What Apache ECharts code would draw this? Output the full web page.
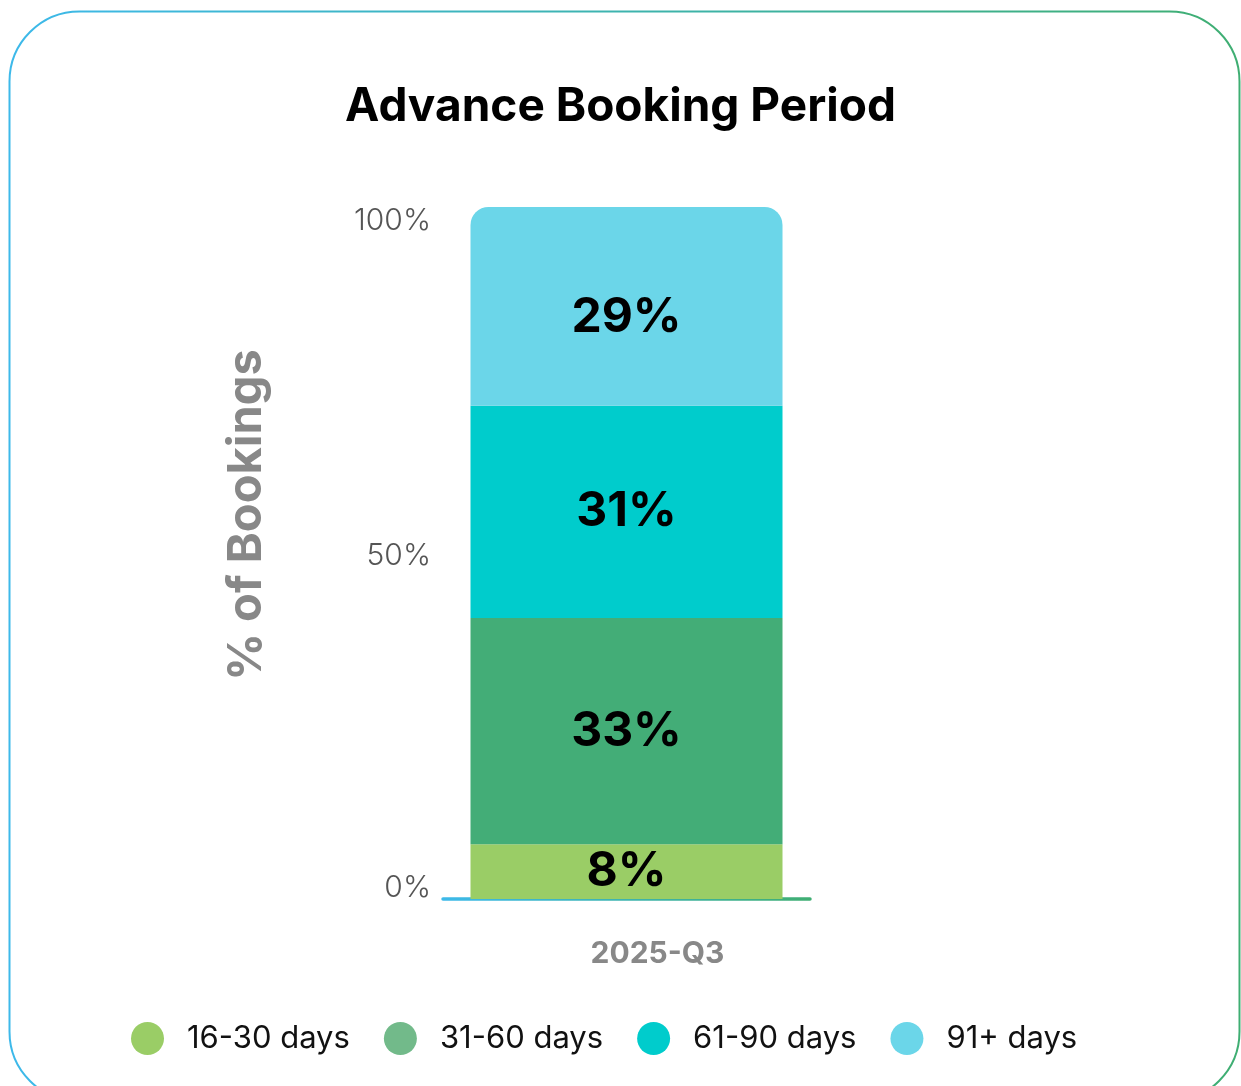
<!DOCTYPE html>
<html>
<head>
<meta charset="utf-8">
<script src="https://cdn.jsdelivr.net/npm/echarts@6/dist/echarts.min.js"></script>
<style>
  html, body { margin: 0; padding: 0; background: #fff; }
  #chart { width: 1241px; height: 1086px; }
</style>
</head>
<body>
<div id="chart"></div>
<script>
/** advance booking period, share of bookings per lead-time bucket */

const categories = ["2025-Q3"];
const seriesNames = ["16-30 days", "31-60 days", "61-90 days", "91+ days"];
const seriesValues = [[8], [33], [31], [29]];
const barColors = ["#9acd66", "#43ad77", "#00cccc", "#6bd6e9"];
const legendColors = ["#9acd66", "#72ba8a", "#00cccc", "#6bd6e9"];
const yTicks = [0, 50, 100];

const font = "Inter, 'Open Sans', sans-serif";
const blue = "#3db9ea";
const green = "#3fae72";

const chart = echarts.init(document.getElementById("chart"), undefined, {
  renderer: "canvas",
});

const hGradient = () =>
  new echarts.graphic.LinearGradient(0, 0, 1, 0, [
    { offset: 0, color: blue },
    { offset: 1, color: green },
  ]);

const last = seriesNames.length - 1;

const series = seriesNames.map((name, i) => ({
  name,
  type: "bar",
  stack: "total",
  barWidth: 312,
  data: seriesValues[i],
  itemStyle: {
    color: barColors[i],
    borderRadius: i === last ? [18, 18, 0, 0] : 0,
  },
  label: {
    show: true,
    position: "inside",
    offset: i === last ? [0, 11] : [0, 0],
    formatter: "{c}%",
    color: "#000",
    fontFamily: font,
    fontSize: 48,
    fontWeight: "bold",
  },
}));

const option = {
  animation: false,
  textStyle: { fontFamily: font },

  graphic: [
    {
      type: "rect",
      z: -10,
      shape: { x: 9.5, y: 11.5, width: 1230, height: 1090, r: 70 },
      style: { fill: "none", stroke: hGradient(), lineWidth: 2 },
    },
  ],

  title: {
    text: "Advance Booking Period",
    left: "center",
    top: 79,
    textStyle: {
      color: "#000",
      fontFamily: font,
      fontSize: 46,
      fontWeight: "bold",
    },
  },

  grid: { left: 443, right: 431, top: 207, bottom: 187 },

  xAxis: {
    type: "category",
    data: categories,
    axisLine: { lineStyle: { color: hGradient(), width: 3.5 } },
    axisTick: { show: false },
    axisLabel: {
      color: "#888",
      fontFamily: font,
      fontSize: 30,
      fontWeight: "bold",
      margin: 40,
      padding: [0, 0, 0, 62],
    },
  },

  yAxis: {
    type: "value",
    min: 0,
    max: 101,
    interval: 50,
    axisLine: { show: false },
    axisTick: { show: false },
    splitLine: { show: false },
    axisLabel: {
      margin: 12,
      showMaxLabel: false,
      formatter: (v) => {
        if (!yTicks.includes(v)) return "";
        if (v === 0) return "{lo|0%}";
        if (v === 100) return "{hi|100%}";
        return "{mid|" + v + "%}";
      },
      rich: {
        lo: { color: "#555", fontFamily: font, fontSize: 30, fontWeight: 300, padding: [0, 0, 22, 0] },
        mid: { color: "#555", fontFamily: font, fontSize: 30, fontWeight: 300 },
        hi: { color: "#555", fontFamily: font, fontSize: 30, fontWeight: 300, padding: [14, 0, 0, 0] },
      },
    },
    name: "% of Bookings",
    nameLocation: "middle",
    nameGap: 173,
    nameTextStyle: {
      color: "#888",
      fontFamily: font,
      fontSize: 47,
      fontWeight: "bold",
      padding: [0, 0, 0, 76],
    },
  },

  legend: {
    bottom: 31,
    left: 131,
    padding: 0,
    icon: "circle",
    itemWidth: 33,
    itemHeight: 33,
    itemGap: 34,
    textStyle: {
      color: "#111",
      fontFamily: font,
      fontSize: 31,
      padding: [0, 0, 0, 18],
    },
    data: seriesNames.map((name, i) => ({
      name,
      itemStyle: { color: legendColors[i] },
    })),
  },

  series,
};

chart.setOption(option);
</script>
</body>
</html>
